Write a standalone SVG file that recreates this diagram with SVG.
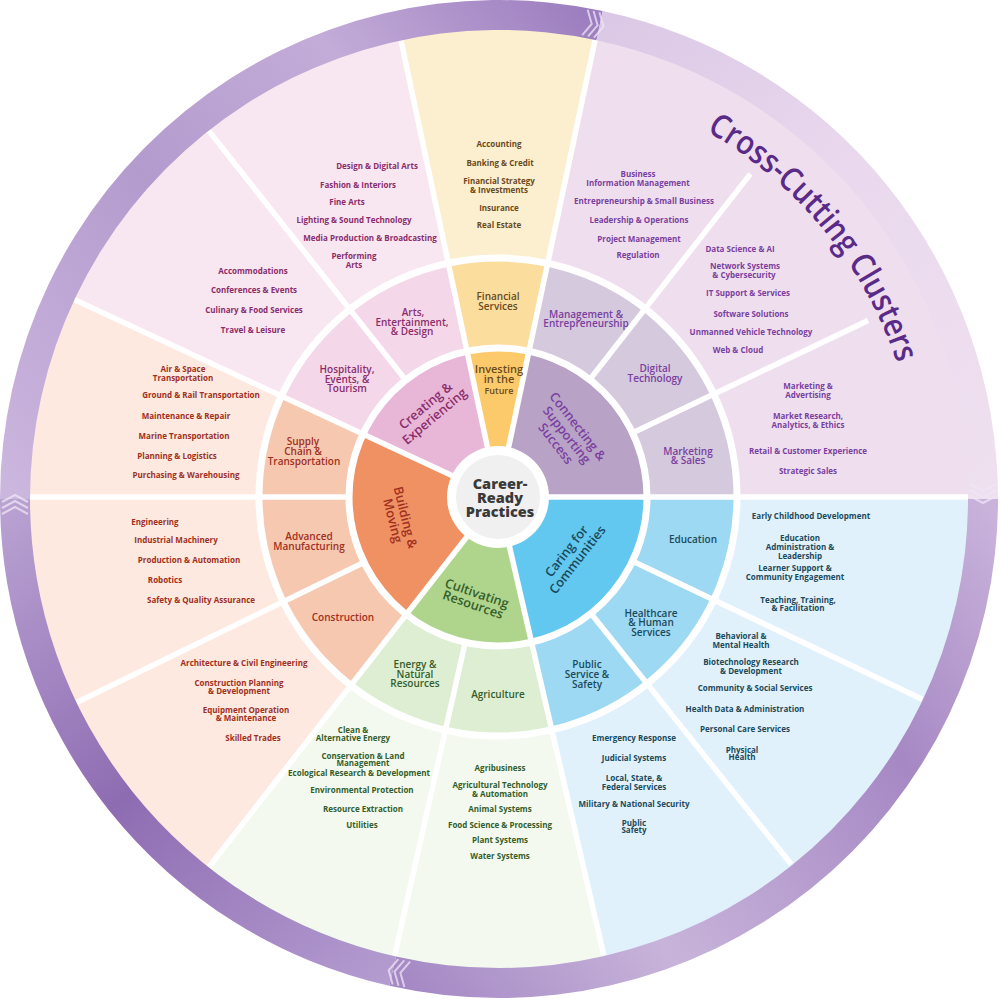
<svg xmlns="http://www.w3.org/2000/svg" width="1000" height="999" viewBox="0 0 1000 999">
<defs>
<style>
text{font-family:"Open Sans","Noto Sans","DejaVu Sans",sans-serif;text-anchor:middle}
.o{font-size:8px;font-weight:700}
.m{font-size:10px;font-weight:600}
.i{font-size:12.8px;font-weight:600}
.cy{fill:#6b4a1e}.cp{fill:#7a3fa0}.cb{fill:#1b4a5b}.cg{fill:#355e2b}.cr{fill:#a0301e}.cm{fill:#8b2d6c}
.sep{stroke:#fff;stroke-width:5.5;fill:none}
.chev{fill:none;stroke:#efe6f4;stroke-width:2;opacity:.75}
</style>
<linearGradient id="g1" gradientUnits="userSpaceOnUse" x1="20" y1="499" x2="600" y2="25">
<stop offset="0" stop-color="#cbb6de"/><stop offset="0.4" stop-color="#b49bce"/><stop offset="0.7" stop-color="#c3acd8"/><stop offset="1" stop-color="#9c7dbf"/>
</linearGradient>
<linearGradient id="g2" gradientUnits="userSpaceOnUse" x1="600" y1="25" x2="983" y2="499">
<stop offset="0" stop-color="#dbc8e6"/><stop offset="0.45" stop-color="#ead9ee"/><stop offset="1" stop-color="#efe0ef"/>
</linearGradient>
<linearGradient id="g3" gradientUnits="userSpaceOnUse" x1="983" y1="499" x2="392" y2="971">
<stop offset="0" stop-color="#c9b3db"/><stop offset="0.3" stop-color="#a688c4"/><stop offset="0.7" stop-color="#c8b4da"/><stop offset="1" stop-color="#a488c4"/>
</linearGradient>
<linearGradient id="g4" gradientUnits="userSpaceOnUse" x1="392" y1="971" x2="15" y2="499">
<stop offset="0" stop-color="#b39bcf"/><stop offset="0.5" stop-color="#8e6cb2"/><stop offset="1" stop-color="#b9a2d2"/>
</linearGradient>
<g id="chevron">
<polyline class="chev" points="-3,-13 4,0 -3,13"/>
<polyline class="chev" points="-9,-13 -2,0 -9,13"/>
<polyline class="chev" points="-15,-13 -8,0 -15,13"/>
</g>
<path id="ccpath" d="M706.6,131.3 A421,421 0 0 1 912.6,423.9"/>
</defs>

<g id="outer-wedges">
<path d="M498,497 L58.4,292 A485,485 0 0 1 397.2,22.6 Z" fill="#f8e7f1"/>
<path d="M498,497 L397.2,22.6 A485,485 0 0 1 598.8,22.6 Z" fill="#fcefcf"/>
<path d="M498,497 L598.8,22.6 A485,485 0 0 1 983,497 Z" fill="#efdfee"/>
<path d="M498,497 L983,497 A485,485 0 0 1 607.1,969.6 Z" fill="#e1f1fb"/>
<path d="M498,497 L607.1,969.6 A485,485 0 0 1 199.4,879.2 Z" fill="#f3f9ef"/>
<path d="M498,497 L199.4,879.2 A485,485 0 0 1 58.4,292 Z" fill="#fde9e0"/>
</g>

<g id="middle-ring">
<path d="M498,497 L280.5,395.6 A240,240 0 0 1 448.1,262.3 Z" fill="#f4d7e8"/>
<path d="M498,497 L448.1,262.3 A240,240 0 0 1 547.9,262.3 Z" fill="#fbdd9d"/>
<path d="M498,497 L547.9,262.3 A240,240 0 0 1 738,497 Z" fill="#d4c9dd"/>
<path d="M498,497 L738,497 A240,240 0 0 1 552,730.9 Z" fill="#9dd9f3"/>
<path d="M498,497 L552,730.9 A240,240 0 0 1 350.2,686.1 Z" fill="#ddeed3"/>
<path d="M498,497 L350.2,686.1 A240,240 0 0 1 280.5,395.6 Z" fill="#f7c8b0"/>
</g>

<g id="inner-sectors">
<path d="M498,497 L363,434 A149,149 0 0 1 467,351.3 Z" fill="#e8b6d6"/>
<path d="M498,497 L467,351.3 A149,149 0 0 1 529,351.3 Z" fill="#fdca6b"/>
<path d="M498,497 L529,351.3 A149,149 0 0 1 647,497 Z" fill="#b8a3c7"/>
<path d="M498,497 L647,497 A149,149 0 0 1 531.5,642.2 Z" fill="#62c8f0"/>
<path d="M498,497 L531.5,642.2 A149,149 0 0 1 406.3,614.4 Z" fill="#afd58d"/>
<path d="M498,497 L406.3,614.4 A149,149 0 0 1 363,434 Z" fill="#f09164"/>
</g>

<g id="connectors">
<line class="sep" x1="498" y1="497" x2="400.3" y2="37.3"/>
<line class="sep" x1="498" y1="497" x2="595.7" y2="37.3"/>
<line class="sep" x1="498" y1="497" x2="968" y2="497"/>
<line class="sep" x1="498" y1="497" x2="603.8" y2="955"/>
<line class="sep" x1="498" y1="497" x2="208.6" y2="867.4"/>
<line class="sep" x1="498" y1="497" x2="72" y2="298.4"/>
<line class="sep" x1="633.4" y1="561.6" x2="922.2" y2="699.3"/>
<line class="sep" x1="591.6" y1="614.2" x2="791.2" y2="864.3"/>
<line class="sep" x1="465" y1="643.3" x2="394.7" y2="955.5"/>
<line class="sep" x1="363.2" y1="562.8" x2="75.6" y2="703"/>
<line class="sep" x1="348" y1="497" x2="28" y2="497"/>
<line class="sep" x1="405" y1="379.3" x2="206.7" y2="128.1"/>
<line class="sep" x1="590.4" y1="378.8" x2="750.4" y2="173.9"/>
<line class="sep" x1="633.4" y1="432.4" x2="868.1" y2="320.5"/>
<circle cx="498" cy="497" r="149" fill="none" stroke="#fff" stroke-width="7"/>
<circle cx="498" cy="497" r="239" fill="none" stroke="#fff" stroke-width="7"/>
</g>

<g id="outer-ring">
<path d="M0,499 A499,499 0 0 1 602.7,10.9 L596.5,40.2 A469,469 0 0 0 30,499 Z" fill="url(#g1)"/>
<path d="M602.7,10.9 A499,499 0 0 1 998,499 L968,499 A469,469 0 0 0 596.5,40.2 Z" fill="url(#g2)"/>
<path d="M998,499 A499,499 0 0 1 389.3,985.8 L395.9,956.5 A469,469 0 0 0 968,499 Z" fill="url(#g3)"/>
<path d="M389.3,985.8 A499,499 0 0 1 0,499 L30,499 A469,469 0 0 0 395.9,956.5 Z" fill="url(#g4)"/>
<use href="#chevron" transform="translate(599.6,25.6) rotate(12)"/>
<use href="#chevron" transform="translate(983,499) rotate(90)"/>
<use href="#chevron" transform="translate(392.6,971.1) rotate(192.7)"/>
<use href="#chevron" transform="translate(15,499) rotate(270)"/>
</g>

<g id="center">
<circle cx="498" cy="497" r="51" fill="#fff"/>
<circle cx="498" cy="497" r="42" fill="#f0f0f0"/>
<text x="500" y="489" style="font-size:14.5px;font-weight:800;fill:#3a3a3a">Career-</text>
<text x="500" y="503" style="font-size:14.5px;font-weight:800;fill:#3a3a3a">Ready</text>
<text x="500" y="517" style="font-size:14.5px;font-weight:800;fill:#3a3a3a">Practices</text>
</g>

<g id="pathway-investing">
<text class="cy" x="499" y="372.8" style="font-size:11px;font-weight:600">Investing</text>
<text class="cy" x="499" y="383.1" style="font-size:11px;font-weight:600">in the</text>
<text class="cy" x="499" y="393.8" style="font-size:9px;font-weight:600">Future</text>
</g>
<g id="pathway-creating" transform="translate(430,411) rotate(-40)">
<text class="i cm" x="0" y="-2.6">Creating &amp;</text>
<text class="i cm" x="0" y="11.4">Experiencing</text>
</g>
<g id="pathway-connecting" transform="translate(566.7,435) rotate(52)">
<text class="i cp" x="0" y="-9.6">Connecting &amp;</text>
<text class="i cp" x="0" y="4.4">Supporting</text>
<text class="i cp" x="0" y="18.4">Success</text>
</g>
<g id="pathway-caring" transform="translate(572,555.5) rotate(-52)">
<text class="i cb" x="0" y="-2.6">Caring for</text>
<text class="i cb" x="0" y="11.4">Communities</text>
</g>
<g id="pathway-cultivating" transform="translate(475,599) rotate(19)">
<text class="i cg" x="0" y="-1.6">Cultivating</text>
<text class="i cg" x="0" y="10.4">Resources</text>
</g>
<g id="pathway-building" transform="translate(399,519) rotate(76)">
<text class="i cr" x="0" y="-2.1">Building &amp;</text>
<text class="i cr" x="0" y="10.9">Moving</text>
</g>

<g id="cluster-arts">
<text class="m cm" x="413" y="315.8">Arts,</text>
<text class="m cm" x="412" y="325.5">Entertainment,</text>
<text class="m cm" x="412" y="335.2">&amp; Design</text>
<text class="o cm" x="377" y="168.6">Design &amp; Digital Arts</text>
<text class="o cm" x="358" y="188">Fashion &amp; Interiors</text>
<text class="o cm" x="347" y="205">Fine Arts</text>
<text class="o cm" x="354" y="223">Lighting &amp; Sound Technology</text>
<text class="o cm" x="370" y="241.3">Media Production &amp; Broadcasting</text>
<text class="o cm" x="354" y="259.3">Performing</text>
<text class="o cm" x="354" y="268">Arts</text>
</g>
<g id="cluster-hospitality">
<text class="m cm" x="347" y="372.8">Hospitality,</text>
<text class="m cm" x="347" y="382.5">Events, &amp;</text>
<text class="m cm" x="347" y="391.8">Tourism</text>
<text class="o cm" x="253" y="273.6">Accommodations</text>
<text class="o cm" x="254" y="293.3">Conferences &amp; Events</text>
<text class="o cm" x="254" y="313.3">Culinary &amp; Food Services</text>
<text class="o cm" x="253" y="333">Travel &amp; Leisure</text>
</g>
<g id="cluster-financial">
<text class="m cy" x="498" y="300.2">Financial</text>
<text class="m cy" x="498" y="309.8">Services</text>
<text class="o cy" x="499" y="147">Accounting</text>
<text class="o cy" x="500" y="166">Banking &amp; Credit</text>
<text class="o cy" x="499" y="184.3">Financial Strategy</text>
<text class="o cy" x="499" y="192.6">&amp; Investments</text>
<text class="o cy" x="499" y="211">Insurance</text>
<text class="o cy" x="499" y="227.6">Real Estate</text>
</g>
<g id="cluster-management">
<text class="m cp" x="586" y="317.5">Management &amp;</text>
<text class="m cp" x="586" y="327.2">Entrepreneurship</text>
<text class="o cp" x="638" y="176.6">Business</text>
<text class="o cp" x="638" y="185.6">Information Management</text>
<text class="o cp" x="644" y="204">Entrepreneurship &amp; Small Business</text>
<text class="o cp" x="639" y="223">Leadership &amp; Operations</text>
<text class="o cp" x="639" y="241.6">Project Management</text>
<text class="o cp" x="638" y="258.3">Regulation</text>
</g>
<g id="cluster-digital">
<text class="m cp" x="655" y="371.8">Digital</text>
<text class="m cp" x="655" y="381.8">Technology</text>
<text class="o cp" x="740" y="252.3">Data Science &amp; AI</text>
<text class="o cp" x="745" y="269.3">Network Systems</text>
<text class="o cp" x="744" y="278.3">&amp; Cybersecurity</text>
<text class="o cp" x="748" y="296">IT Support &amp; Services</text>
<text class="o cp" x="751" y="317">Software Solutions</text>
<text class="o cp" x="751" y="335">Unmanned Vehicle Technology</text>
<text class="o cp" x="738" y="352.6">Web &amp; Cloud</text>
</g>
<g id="cluster-marketing">
<text class="m cp" x="688" y="454.5">Marketing</text>
<text class="m cp" x="688" y="464.2">&amp; Sales</text>
<text class="o cp" x="808" y="388.6">Marketing &amp;</text>
<text class="o cp" x="808" y="397.6">Advertising</text>
<text class="o cp" x="808" y="419.3">Market Research,</text>
<text class="o cp" x="808" y="428.3">Analytics, &amp; Ethics</text>
<text class="o cp" x="808" y="454">Retail &amp; Customer Experience</text>
<text class="o cp" x="808" y="474">Strategic Sales</text>
</g>
<g id="cluster-education">
<text class="m cb" x="693" y="543.2">Education</text>
<text class="o cb" x="811" y="519.3">Early Childhood Development</text>
<text class="o cb" x="800" y="541.3">Education</text>
<text class="o cb" x="800" y="550">Administration &amp;</text>
<text class="o cb" x="800" y="558.6">Leadership</text>
<text class="o cb" x="795" y="571.3">Learner Support &amp;</text>
<text class="o cb" x="795" y="580">Community Engagement</text>
<text class="o cb" x="798" y="602.6">Teaching, Training,</text>
<text class="o cb" x="798" y="611.3">&amp; Facilitation</text>
</g>
<g id="cluster-healthcare">
<text class="m cb" x="651" y="616.5">Healthcare</text>
<text class="m cb" x="651" y="625.8">&amp; Human</text>
<text class="m cb" x="651" y="635.8">Services</text>
<text class="o cb" x="741" y="639.3">Behavioral &amp;</text>
<text class="o cb" x="741" y="648">Mental Health</text>
<text class="o cb" x="751" y="665.3">Biotechnology Research</text>
<text class="o cb" x="751" y="674">&amp; Development</text>
<text class="o cb" x="755" y="690.6">Community &amp; Social Services</text>
<text class="o cb" x="745" y="711.6">Health Data &amp; Administration</text>
<text class="o cb" x="745" y="732.3">Personal Care Services</text>
<text class="o cb" x="742" y="753.3">Physical</text>
<text class="o cb" x="742" y="760">Health</text>
</g>
<g id="cluster-public">
<text class="m cb" x="587" y="667.8">Public</text>
<text class="m cb" x="587" y="677.5">Service &amp;</text>
<text class="m cb" x="587" y="687.5">Safety</text>
<text class="o cb" x="634" y="741.3">Emergency Response</text>
<text class="o cb" x="634" y="761.3">Judicial Systems</text>
<text class="o cb" x="634" y="781.3">Local, State, &amp;</text>
<text class="o cb" x="634" y="789.6">Federal Services</text>
<text class="o cb" x="634" y="806.6">Military &amp; National Security</text>
<text class="o cb" x="634" y="826">Public</text>
<text class="o cb" x="634" y="833">Safety</text>
</g>
<g id="cluster-agriculture">
<text class="m cg" x="498" y="697.5">Agriculture</text>
<text class="o cg" x="500" y="771">Agribusiness</text>
<text class="o cg" x="500" y="788.3">Agricultural Technology</text>
<text class="o cg" x="500" y="797">&amp; Automation</text>
<text class="o cg" x="500" y="812">Animal Systems</text>
<text class="o cg" x="500" y="828">Food Science &amp; Processing</text>
<text class="o cg" x="500" y="843.3">Plant Systems</text>
<text class="o cg" x="500" y="858.6">Water Systems</text>
</g>
<g id="cluster-energy">
<text class="m cg" x="415" y="668.2">Energy &amp;</text>
<text class="m cg" x="415" y="677.5">Natural</text>
<text class="m cg" x="415" y="687.2">Resources</text>
<text class="o cg" x="353" y="732.6">Clean &amp;</text>
<text class="o cg" x="353" y="741.3">Alternative Energy</text>
<text class="o cg" x="363" y="759.3">Conservation &amp; Land</text>
<text class="o cg" x="363" y="766">Management</text>
<text class="o cg" x="359" y="775.6">Ecological Research &amp; Development</text>
<text class="o cg" x="362" y="792.6">Environmental Protection</text>
<text class="o cg" x="363" y="812">Resource Extraction</text>
<text class="o cg" x="362" y="827.6">Utilities</text>
</g>
<g id="cluster-construction">
<text class="m cr" x="343" y="620.5">Construction</text>
<text class="o cr" x="244" y="666">Architecture &amp; Civil Engineering</text>
<text class="o cr" x="239" y="685.6">Construction Planning</text>
<text class="o cr" x="239" y="694.3">&amp; Development</text>
<text class="o cr" x="246" y="712.6">Equipment Operation</text>
<text class="o cr" x="246" y="721.3">&amp; Maintenance</text>
<text class="o cr" x="253" y="741">Skilled Trades</text>
</g>
<g id="cluster-advanced">
<text class="m cr" x="309" y="540.2">Advanced</text>
<text class="m cr" x="309" y="549.8">Manufacturing</text>
<text class="o cr" x="155" y="525.3">Engineering</text>
<text class="o cr" x="176" y="543">Industrial Machinery</text>
<text class="o cr" x="189" y="562.6">Production &amp; Automation</text>
<text class="o cr" x="165" y="583">Robotics</text>
<text class="o cr" x="201" y="602.6">Safety &amp; Quality Assurance</text>
</g>
<g id="cluster-supply">
<text class="m cr" x="303" y="444.5">Supply</text>
<text class="m cr" x="303" y="454.5">Chain &amp;</text>
<text class="m cr" x="304" y="464.8">Transportation</text>
<text class="o cr" x="183" y="372">Air &amp; Space</text>
<text class="o cr" x="183" y="380.6">Transportation</text>
<text class="o cr" x="201" y="398.3">Ground &amp; Rail Transportation</text>
<text class="o cr" x="186" y="419.3">Maintenance &amp; Repair</text>
<text class="o cr" x="184" y="439.3">Marine Transportation</text>
<text class="o cr" x="177" y="459.3">Planning &amp; Logistics</text>
<text class="o cr" x="186" y="478.3">Purchasing &amp; Warehousing</text>
</g>

<g id="title">
<text style="font-size:33px;font-weight:600;fill:#5a2a88;text-anchor:start"><textPath href="#ccpath" textLength="307" lengthAdjust="spacingAndGlyphs">Cross-Cutting Clusters</textPath></text>
</g>
</svg>
